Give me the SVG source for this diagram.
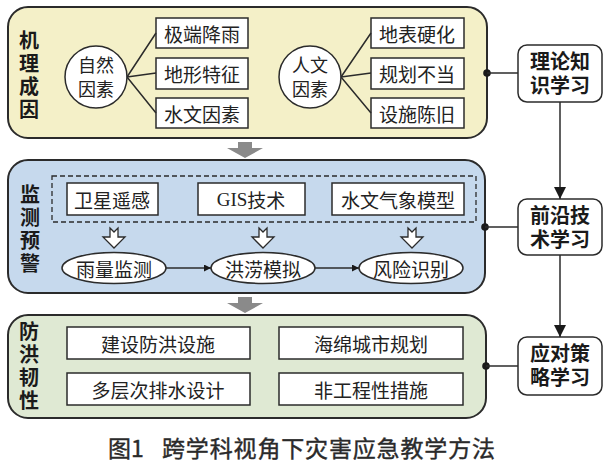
<svg xmlns="http://www.w3.org/2000/svg" width="611" height="467" viewBox="0 0 611 467">
<defs>
<style>
.panel{stroke:#2b2b2b;stroke-width:2}
.box{fill:#fff;stroke:#2b2b2b;stroke-width:1.5}
.t{font-family:"Noto Sans CJK SC","Liberation Serif",serif;font-size:19px;fill:#222;text-anchor:middle;dominant-baseline:central}
.title{font-family:"Liberation Sans","Noto Sans CJK SC",sans-serif;font-size:20px;font-weight:bold;fill:#1a1a1a;text-anchor:middle;dominant-baseline:central}
.vt{font-family:"Noto Sans CJK SC",sans-serif;font-size:20px;font-weight:bold;fill:#1a1a1a;writing-mode:vertical-rl;text-anchor:start;letter-spacing:3px}
.side{fill:#fff;stroke:#2b2b2b;stroke-width:1.5}
.ln{stroke:#2b2b2b;stroke-width:1.5;fill:none}
.gray{fill:#8a8a8a}
.hollow{fill:#fff;stroke:#2b2b2b;stroke-width:1.3}
.cap{font-family:"Noto Sans CJK SC",sans-serif;font-size:23px;font-weight:normal;fill:#2a2a2a;stroke:#2a2a2a;stroke-width:0.4;dominant-baseline:central}
</style>
<marker id="ah" viewBox="0 0 10 10" refX="10" refY="5" markerWidth="7" markerHeight="7" orient="auto" markerUnits="userSpaceOnUse">
<path d="M0,0 L10,5 L0,10 z" fill="#1a1a1a"/>
</marker>
<marker id="ahb" viewBox="0 0 10 10" refX="10" refY="5" markerWidth="12" markerHeight="12" orient="auto" markerUnits="userSpaceOnUse">
<path d="M0,0 L10,5 L0,10 z" fill="#1a1a1a"/>
</marker>
</defs>
<rect width="611" height="467" fill="#fff"/>

<g id="panel1">
<rect class="panel" x="8" y="7" width="479" height="131" rx="20" fill="#f4f0c8"/>
<text class="vt" x="29" y="30">机理成因</text>
</g>
<g id="natural">
<circle cx="96" cy="77" r="31" fill="#fff" stroke="#2b2b2b" stroke-width="1.5"/>
<text class="t" x="96" y="64" style="font-size:18px">自然<tspan x="96" dy="24">因素</tspan></text>
</g>
<g id="n1"><rect class="box" x="156" y="18" width="92" height="30"/><text class="t" x="202" y="33">极端降雨</text></g>
<g id="n2"><rect class="box" x="156" y="58" width="92" height="31"/><text class="t" x="202" y="73">地形特征</text></g>
<g id="n3"><rect class="box" x="156" y="98" width="92" height="30"/><text class="t" x="202" y="113">水文因素</text></g>
<g id="human">
<circle cx="310" cy="77" r="31" fill="#fff" stroke="#2b2b2b" stroke-width="1.5"/>
<text class="t" x="310" y="64" style="font-size:18px">人文<tspan x="310" dy="24">因素</tspan></text>
</g>
<g id="h1"><rect class="box" x="371" y="18" width="93" height="30"/><text class="t" x="417" y="33">地表硬化</text></g>
<g id="h2"><rect class="box" x="371" y="58" width="93" height="31"/><text class="t" x="417" y="73">规划不当</text></g>
<g id="h3"><rect class="box" x="371" y="98" width="93" height="30"/><text class="t" x="417" y="113">设施陈旧</text></g>

<g id="panel2">
<rect class="panel" x="8" y="160" width="477" height="133" rx="20" fill="#c6d9ed"/>
<text class="vt" x="30" y="184">监测预警</text>
<rect x="52" y="176" width="424" height="46" fill="none" stroke="#2b2b2b" stroke-width="1.3" stroke-dasharray="5,3"/>
</g>
<g id="m1"><rect class="box" x="67" y="183" width="91" height="32"/><text class="t" x="112" y="199">卫星遥感</text></g>
<g id="m2"><rect class="box" x="198" y="183" width="107" height="32"/><text class="t" x="251" y="199"><tspan style="font-family:'Liberation Serif',serif">GIS</tspan>技术</text></g>
<g id="m3"><rect class="box" x="332" y="183" width="132" height="32"/><text class="t" x="398" y="199">水文气象模型</text></g>
<g id="e1"><ellipse cx="114" cy="268" rx="52" ry="15.5" fill="#fff" stroke="#2b2b2b" stroke-width="1.5"/><text class="t" x="114" y="268">雨量监测</text></g>
<g id="e2"><ellipse cx="263" cy="268" rx="52" ry="15.5" fill="#fff" stroke="#2b2b2b" stroke-width="1.5"/><text class="t" x="263" y="268">洪涝模拟</text></g>
<g id="e3"><ellipse cx="411" cy="268" rx="52" ry="15.5" fill="#fff" stroke="#2b2b2b" stroke-width="1.5"/><text class="t" x="411" y="268">风险识别</text></g>

<g id="panel3">
<rect class="panel" x="8" y="315" width="478" height="103" rx="20" fill="#dfe9d3"/>
<text class="vt" x="29" y="321">防洪韧性</text>
</g>
<g id="r1"><rect class="box" x="67" y="327" width="183" height="32"/><text class="t" x="158" y="343">建设防洪设施</text></g>
<g id="r2"><rect class="box" x="67" y="373" width="183" height="32"/><text class="t" x="158" y="389">多层次排水设计</text></g>
<g id="r3"><rect class="box" x="279" y="327" width="184" height="32"/><text class="t" x="371" y="343">海绵城市规划</text></g>
<g id="r4"><rect class="box" x="279" y="373" width="184" height="32"/><text class="t" x="371" y="389">非工程性措施</text></g>

<g id="s1"><rect class="side" x="518" y="45" width="84" height="57" rx="9"/><text class="title" x="560" y="62">理论知<tspan x="560" dy="23.5">识学习</tspan></text></g>
<g id="s2"><rect class="side" x="518" y="199" width="84" height="56" rx="9"/><text class="title" x="560" y="216">前沿技<tspan x="560" dy="23.5">术学习</tspan></text></g>
<g id="s3"><rect class="side" x="518" y="337" width="84" height="58" rx="9"/><text class="title" x="560" y="354">应对策<tspan x="560" dy="23.5">略学习</tspan></text></g>

<g id="connectors">
<path class="ln" d="M127,77 L156,33 M127,77 L156,73 M127,77 L156,113"/>
<path class="ln" d="M341,77 L371,33 M341,77 L371,73 M341,77 L371,113"/>
<path class="ln" d="M166,268 L211,268" marker-end="url(#ah)"/>
<path class="ln" d="M315,268 L359,268" marker-end="url(#ah)"/>
<circle cx="487" cy="73" r="3.8" fill="#1a1a1a"/>
<path class="ln" d="M487,73 L518,73"/>
<circle cx="485" cy="227" r="3.8" fill="#1a1a1a"/>
<path class="ln" d="M485,227 L518,227"/>
<circle cx="486" cy="366" r="3.8" fill="#1a1a1a"/>
<path class="ln" d="M486,366 L518,366"/>
<path class="ln" d="M560,102 L560,199" marker-end="url(#ahb)"/>
<path class="ln" d="M560,255 L560,337" marker-end="url(#ahb)"/>
<path class="gray" d="M238,142 L252,142 L252,148 L263,148 L245,158 L227,148 L238,148 z"/>
<path class="gray" d="M238,297 L252,297 L252,303 L263,303 L245,313 L227,303 L238,303 z"/>
<path class="hollow" d="M110,228 L114,232 L118,228 L118,237 L125,237 L114,248 L103,237 L110,237 z"/>
<path class="hollow" d="M259,228 L263,232 L267,228 L267,237 L274,237 L263,248 L252,237 L259,237 z"/>
<path class="hollow" d="M408,228 L412,232 L416,228 L416,237 L423,237 L412,248 L401,237 L408,237 z"/>
</g>

<g id="caption">
<text class="cap" x="108" y="447">图1</text>
<text class="cap" x="162" y="447" textLength="333" lengthAdjust="spacing">跨学科视角下灾害应急教学方法</text>
</g>
</svg>
